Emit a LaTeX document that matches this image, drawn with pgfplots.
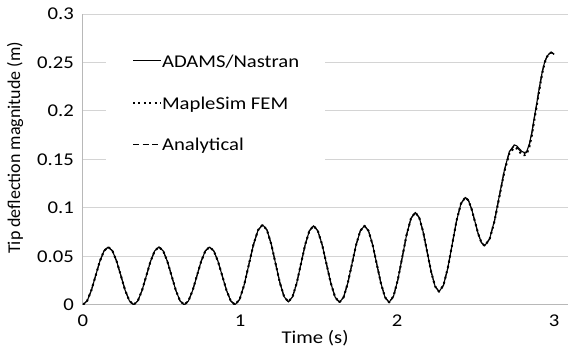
\documentclass[border=0pt]{standalone}
\usepackage{fontspec}
\setmainfont{Carlito}[FakeStretch=1.15]
\newfontfamily\ylfont{Carlito}
\usepackage{pgfplots}
\pgfplotsset{compat=1.18}
\usepackage{pgfplotstable}

\pgfplotstableread{
t adams maple analytic
0 0 0 0
0.0268 0.0040 0.0040 0.0040
0.0537 0.0149 0.0149 0.0149
0.0805 0.0298 0.0298 0.0298
0.1073 0.0447 0.0447 0.0447
0.1342 0.0556 0.0556 0.0556
0.161 0.0596 0.0596 0.0596
0.1880 0.0556 0.0556 0.0556
0.2149 0.0447 0.0447 0.0447
0.2419 0.0298 0.0298 0.0298
0.2688 0.0149 0.0149 0.0149
0.2958 0.0040 0.0040 0.0040
0.3227 0 0 0
0.3496 0.0040 0.0040 0.0040
0.3765 0.0149 0.0149 0.0149
0.4034 0.0298 0.0298 0.0298
0.4302 0.0447 0.0447 0.0447
0.4571 0.0556 0.0556 0.0556
0.484 0.0596 0.0596 0.0596
0.5108 0.0556 0.0556 0.0556
0.5377 0.0447 0.0447 0.0447
0.5645 0.0298 0.0298 0.0298
0.5913 0.0149 0.0149 0.0149
0.6182 0.0040 0.0040 0.0040
0.645 0 0 0
0.6718 0.0040 0.0040 0.0040
0.6987 0.0149 0.0149 0.0149
0.7255 0.0298 0.0298 0.0298
0.7523 0.0447 0.0447 0.0447
0.7792 0.0556 0.0556 0.0556
0.806 0.0596 0.0596 0.0596
0.8330 0.0556 0.0556 0.0556
0.8600 0.0447 0.0447 0.0447
0.8870 0.0298 0.0298 0.0298
0.9140 0.0149 0.0149 0.0149
0.9410 0.0040 0.0040 0.0040
0.968 0 0 0
0.9973 0.0055 0.0055 0.0055
1.0267 0.0206 0.0206 0.0206
1.0560 0.0413 0.0413 0.0413
1.0853 0.0619 0.0619 0.0619
1.1147 0.0770 0.0770 0.0770
1.144 0.0825 0.0825 0.0825
1.1713 0.0772 0.0772 0.0772
1.1987 0.0626 0.0626 0.0626
1.2260 0.0428 0.0428 0.0428
1.2533 0.0229 0.0229 0.0229
1.2807 0.0083 0.0083 0.0083
1.308 0.0030 0.0030 0.0030
1.3347 0.0083 0.0083 0.0083
1.3613 0.0226 0.0226 0.0226
1.3880 0.0423 0.0423 0.0423
1.4147 0.0619 0.0619 0.0619
1.4413 0.0762 0.0762 0.0762
1.468 0.0815 0.0815 0.0815
1.4955 0.0762 0.0762 0.0762
1.5230 0.0618 0.0618 0.0618
1.5505 0.0420 0.0420 0.0420
1.5780 0.0223 0.0223 0.0223
1.6055 0.0078 0.0078 0.0078
1.633 0.0025 0.0025 0.0025
1.6595 0.0078 0.0078 0.0078
1.6860 0.0223 0.0223 0.0223
1.7125 0.0420 0.0420 0.0420
1.7390 0.0618 0.0618 0.0618
1.7655 0.0762 0.0762 0.0762
1.792 0.0815 0.0815 0.0815
1.8182 0.0762 0.0762 0.0762
1.8443 0.0618 0.0618 0.0618
1.8705 0.0420 0.0420 0.0420
1.8967 0.0223 0.0223 0.0223
1.9228 0.0078 0.0078 0.0078
1.949 0.0025 0.0025 0.0025
1.9768 0.0087 0.0087 0.0087
2.0047 0.0257 0.0257 0.0257
2.0325 0.0489 0.0489 0.0489
2.0603 0.0721 0.0721 0.0721
2.0882 0.0891 0.0891 0.0891
2.116 0.0953 0.0953 0.0953
2.1412 0.0898 0.0898 0.0898
2.1663 0.0749 0.0749 0.0749
2.1915 0.0544 0.0544 0.0544
2.2167 0.0340 0.0340 0.0340
2.2418 0.0190 0.0190 0.0190
2.267 0.0135 0.0135 0.0135
2.2948 0.0200 0.0200 0.0200
2.3227 0.0378 0.0378 0.0378
2.3505 0.0622 0.0622 0.0622
2.3783 0.0865 0.0865 0.0865
2.4062 0.1043 0.1043 0.1043
2.434 0.1108 0.1108 0.1108
2.4545 0.1075 0.1075 0.1075
2.4750 0.0983 0.0983 0.0983
2.4955 0.0858 0.0858 0.0858
2.5160 0.0733 0.0733 0.0733
2.5365 0.0642 0.0642 0.0642
2.557 0.0608 0.0608 0.0608
2.5885 0.0678 0.0675 0.0678
2.6200 0.0869 0.0862 0.0866
2.6515 0.1129 0.1118 0.1125
2.6830 0.1390 0.1375 0.1385
2.7145 0.1580 0.1560 0.1575
2.746 0.1650 0.1622 0.1640
2.762 0.1638 0.1612 0.1625
2.778 0.1610 0.1580 0.1598
2.794 0.1582 0.1552 0.1572
2.81 0.1570 0.1542 0.1560
2.825 0.1580 0.1555 0.1572
2.842 0.1660 0.1630 0.1650
2.858 0.1780 0.1750 0.1770
2.874 0.1940 0.1910 0.1930
2.887 0.2060 0.2035 0.2050
2.899 0.2180 0.2155 0.2170
2.913 0.2310 0.2290 0.2300
2.926 0.2420 0.2405 0.2412
2.94 0.2510 0.2500 0.2505
2.955 0.2565 0.2560 0.2562
2.97 0.2593 0.2595 0.2592
2.986 0.2603 0.2606 0.2600
3.0 0.2585 0.2598 0.2580
}\datatable

\begin{document}
\begin{tikzpicture}
\path (0,0) rectangle (568pt,350pt);
\begin{axis}[
  at={(83pt,45pt)}, anchor=south west,
  scale only axis, width=485pt, height=291pt,
  xmin=0, xmax=3.085, ymin=0, ymax=0.3,
  xtick={0,1,2,3}, xticklabels={0,1,2,3},
  ytick={0,0.05,0.1,0.15,0.2,0.25,0.3},
  yticklabels={0,0.05,0.1,0.15,0.2,0.25,0.3},
  ymajorgrids, grid style={draw=black!17, line width=0.9pt},
  axis x line*=bottom, axis y line*=left,
  axis line style={draw=black!28, line width=0.9pt, -},
  major tick length=0pt,
  tick label style={font=\fontsize{18}{20}\selectfont},
  yticklabel style={anchor=east, inner sep=0pt, xshift=-9pt},
  xticklabel style={anchor=north, inner sep=0pt, yshift=-10pt},
  xlabel={Time (s)},
  ylabel={Tip deflection magnitude (m)},
  xlabel style={at={(axis description cs:0.479,-0.1134)}, anchor=center, inner sep=0pt, font=\fontsize{18}{20}\selectfont},
  ylabel style={at={(axis description cs:-0.1402,0.5395)}, anchor=center, inner sep=0pt, font=\ylfont\fontsize{18}{20}\selectfont},
  legend style={at={(axis description cs:0.0474,0.911)}, anchor=north west,
    draw=none, fill=white, inner xsep=26pt, inner ysep=13pt,
    row sep=26.5pt, font=\fontsize{18}{20}\selectfont,
    nodes={inner sep=0pt}},
  legend cell align=left,
  legend image code/.code={\draw[#1] (0pt,0pt) -- (28pt,0pt);},
]
\addplot[black, line width=1.1pt, line join=round] table[x=t, y=adams] {\datatable};
\addlegendentry{\strut ADAMS/Nastran}
\addplot[black, line width=2pt, dash pattern=on 2pt off 3.4pt, line join=round] table[x=t, y=maple] {\datatable};
\addlegendentry{\strut MapleSim FEM}
\addplot[black, line width=1.1pt, dash pattern=on 6pt off 3.5pt, line join=round] table[x=t, y=analytic] {\datatable};
\addlegendentry{\strut Analytical}
\end{axis}
\end{tikzpicture}
\end{document}
